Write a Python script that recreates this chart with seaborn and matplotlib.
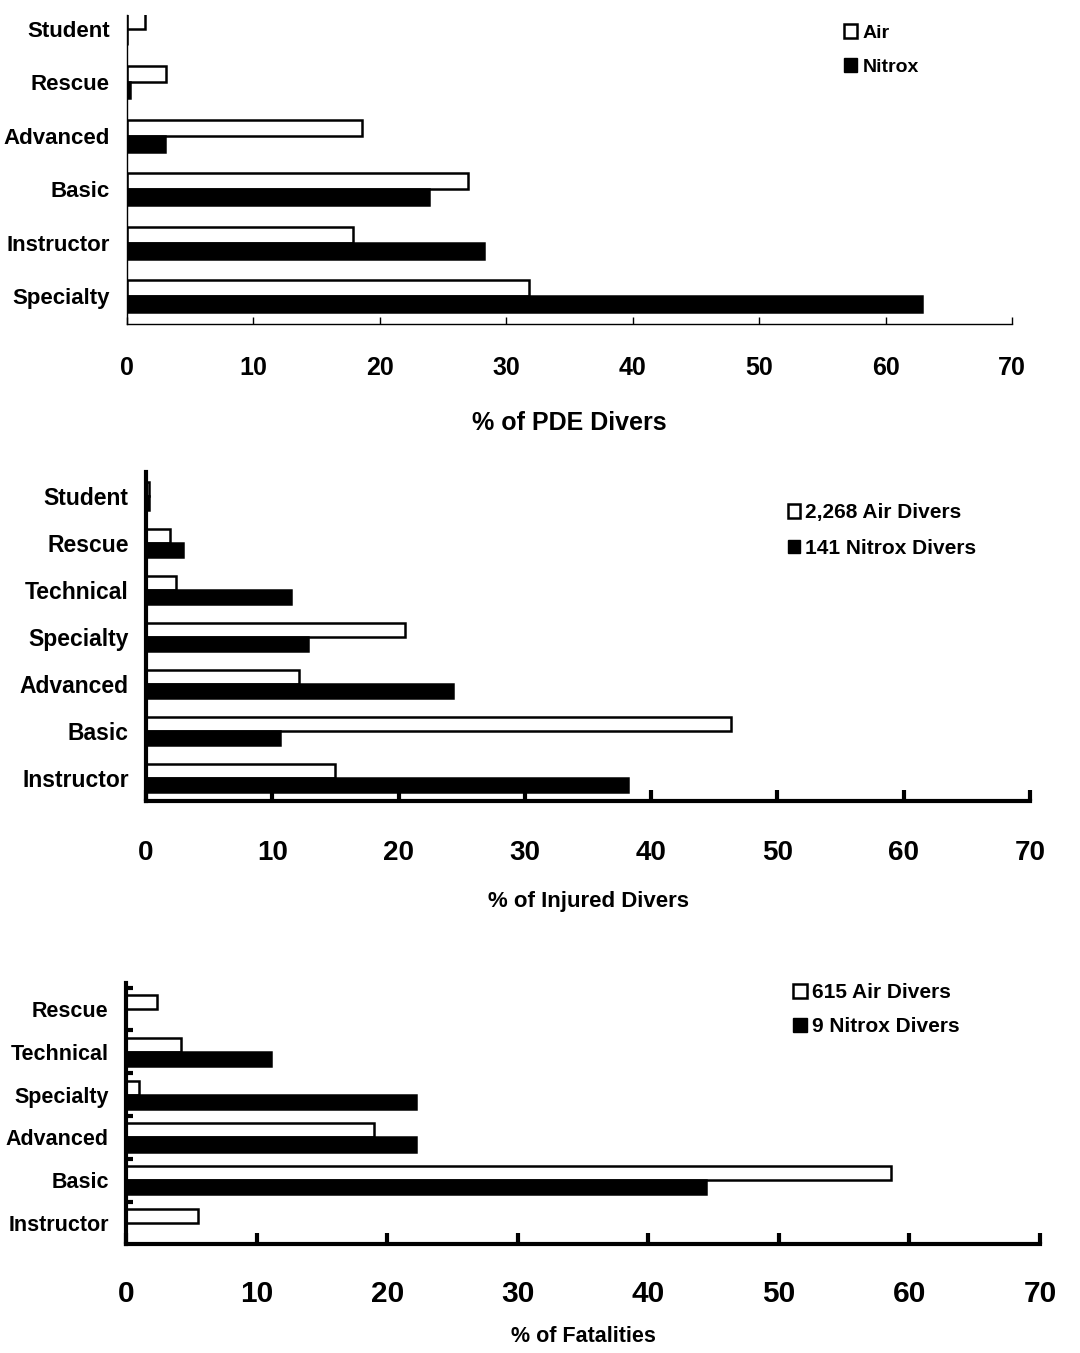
import numpy as np
import pandas as pd
import matplotlib
matplotlib.use("Agg")
import matplotlib.pyplot as plt
import seaborn as sns
from matplotlib.patches import Patch

# --- DATA ---
pde_certs = ["Student", "Rescue", "Advanced", "Basic", "Instructor", "Specialty"]
pde_air = [1.4, 3.1, 18.6, 27.0, 17.9, 31.8]
pde_nitrox = [0.0, 0.2, 3.0, 23.9, 28.2, 62.9]

inj_certs = ["Student", "Rescue", "Technical", "Specialty", "Advanced", "Basic", "Instructor"]
inj_air = [0.2, 1.9, 2.4, 20.5, 12.1, 46.3, 15.0]
inj_nitrox = [0.2, 2.9, 11.5, 12.8, 24.3, 10.6, 38.2]

fat_certs = ["Rescue", "Technical", "Specialty", "Advanced", "Basic", "Instructor"]
fat_air = [2.4, 4.2, 1.0, 19.0, 58.6, 5.5]
fat_nitrox = [0.0, 11.1, 22.2, 22.2, 44.4, 0.0]

x_ticks = [0, 10, 20, 30, 40, 50, 60, 70]

sns.set_style("white")
plt.rcParams["font.family"] = ["Liberation Sans", "DejaVu Sans"]
plt.rcParams["font.weight"] = "bold"
for key in ["text.color", "axes.labelcolor", "xtick.color", "ytick.color"]:
    plt.rcParams[key] = "black"

W, H = 1080, 1353
fig = plt.figure(figsize=(W / 100, H / 100), dpi=100)


def px_axes(left, top, right, bottom):
    # axes box given in pixel coordinates of the final image
    return fig.add_axes([left / W, 1 - bottom / H, (right - left) / W, (bottom - top) / H])


def make_df(certs, air, nitrox):
    return pd.DataFrame({
        "cert": certs * 2,
        "pct": air + nitrox,
        "gas": ["Air"] * len(certs) + ["Nitrox"] * len(certs),
    })


def draw_panel(ax, certs, air, nitrox, width, ylim, spine_w, tick_len, tick_w,
               xtick_fs, xtick_pad, ytick_fs, xlabel, xlabel_fs, xlabel_pad,
               leg_labels, leg_fs, leg_anchor, leg_spacing, leg_handle):
    df = make_df(certs, air, nitrox)
    sns.barplot(data=df, x="pct", y="cert", hue="gas", order=certs,
                hue_order=["Air", "Nitrox"], palette=["white", "black"],
                edgecolor="black", linewidth=1.8, width=width, orient="h",
                legend=False, ax=ax)
    ax.set_xlim(0, 70)
    ax.set_ylim(*ylim)
    ax.set_xticks(x_ticks)
    ax.set_xticklabels([str(t) for t in x_ticks], fontsize=xtick_fs, fontweight="bold")
    ax.set_yticks(range(len(certs)))
    ax.set_yticklabels(certs, fontsize=ytick_fs, fontweight="bold")
    ax.tick_params(axis="x", bottom=True, direction="in", length=tick_len,
                   width=tick_w, pad=xtick_pad, colors="black")
    ax.tick_params(axis="y", left=True, length=0, pad=12.5)
    for side in ["top", "right"]:
        ax.spines[side].set_visible(False)
    for side in ["left", "bottom"]:
        ax.spines[side].set_linewidth(spine_w)
        ax.spines[side].set_color("black")
    ax.set_ylabel("")
    ax.set_xlabel(xlabel, fontsize=xlabel_fs, fontweight="bold", labelpad=xlabel_pad)

    handles = [Patch(facecolor="white", edgecolor="black", linewidth=1.8),
               Patch(facecolor="black", edgecolor="black")]
    ax.legend(handles, leg_labels, loc="upper left", bbox_to_anchor=leg_anchor,
              frameon=False, handlelength=leg_handle,
              handleheight=leg_handle, handletextpad=0.25, borderpad=0,
              borderaxespad=0, labelspacing=leg_spacing,
              prop={"weight": "bold", "size": leg_fs})


# --- PANEL 1: PDE divers ---
ax1 = px_axes(127, 15, 1012, 324)
draw_panel(ax1, pde_certs, pde_air, pde_nitrox, width=0.6, ylim=(5.52, -0.26),
           spine_w=1.0, tick_len=5, tick_w=1.0, xtick_fs=18, xtick_pad=23,
           ytick_fs=16, xlabel="% of PDE Divers", xlabel_fs=18, xlabel_pad=22,
           leg_labels=["Air", "Nitrox"], leg_fs=14, leg_anchor=(0.81, 0.97),
           leg_spacing=0.85, leg_handle=0.7)

# --- PANEL 2: injured divers ---
ax2 = px_axes(146, 472, 1030, 801)
draw_panel(ax2, inj_certs, inj_air, inj_nitrox, width=0.6, ylim=(6.49, -0.51),
           spine_w=3.0, tick_len=8, tick_w=3.0, xtick_fs=20, xtick_pad=28,
           ytick_fs=16.5, xlabel="% of Injured Divers", xlabel_fs=16, xlabel_pad=18,
           leg_labels=["2,268 Air Divers", "141 Nitrox Divers"], leg_fs=15,
           leg_anchor=(0.726, 0.905), leg_spacing=0.78, leg_handle=0.6)

# --- PANEL 3: fatalities ---
ax3 = px_axes(126, 983, 1040, 1244)
draw_panel(ax3, fat_certs, fat_air, fat_nitrox, width=0.66, ylim=(5.49, -0.61),
           spine_w=3.0, tick_len=8, tick_w=3.0, xtick_fs=21.5, xtick_pad=26,
           ytick_fs=15.5, xlabel="% of Fatalities", xlabel_fs=15.5, xlabel_pad=13,
           leg_labels=["615 Air Divers", "9 Nitrox Divers"], leg_fs=15,
           leg_anchor=(0.73, 1.0), leg_spacing=0.72, leg_handle=0.65)
# small marks on the y axis between the categories
ax3.set_yticks(np.arange(len(fat_certs)) - 0.5, minor=True)
ax3.tick_params(axis="y", which="minor", left=True, direction="in", length=5, width=3)

fig.savefig("out.png", dpi=100, facecolor="white")
